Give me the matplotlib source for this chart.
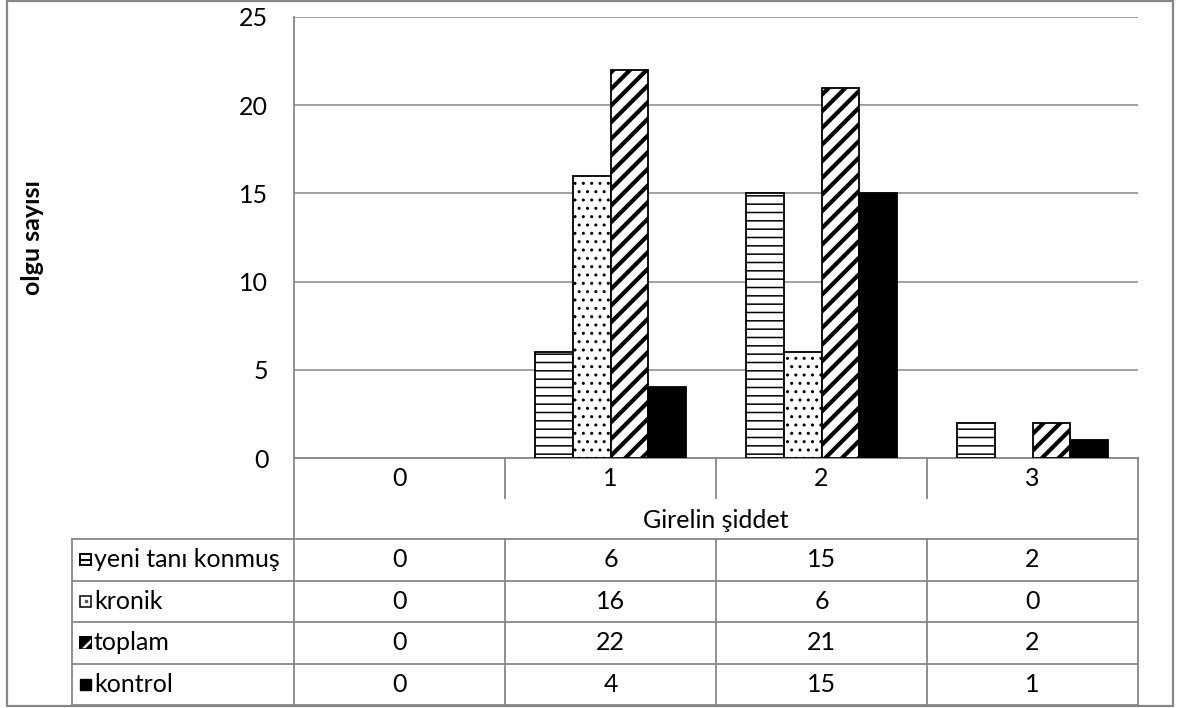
import numpy as np
import matplotlib
matplotlib.use("Agg")
import matplotlib.pyplot as plt
from matplotlib.patches import Rectangle, Polygon
from matplotlib.lines import Line2D

plt.rcParams["font.family"] = ["Lato", "DejaVu Sans"]

# severity grades and case counts per group
categories = ["0", "1", "2", "3"]
series_names = ["yeni tanı konmuş", "kronik", "toplam", "kontrol"]
yeni = [0, 6, 15, 2]
kronik = [0, 16, 6, 0]
toplam = [0, 22, 21, 2]
kontrol = [0, 4, 15, 1]
y_ticks = [0, 5, 10, 15, 20, 25]
x_title = "Girelin şiddet"
y_title = "olgu sayısı"

values = [yeni, kronik, toplam, kontrol]
styles = [
    dict(facecolor="white", hatch="--", hlw=1.1),
    dict(facecolor="white", hatch="..", hlw=1.0),
    dict(facecolor="white", hatch="//", hlw=3.0),
    dict(facecolor="black", hatch=None, hlw=1.0),
]

GRAY = "#878787"
FS = 18
W, H = 1177, 708

fig = plt.figure(figsize=(W / 100, H / 100), dpi=100)

# plot area in pixels
px_left, px_right, px_top, px_bottom = 294, 1138, 17, 458
ax = fig.add_axes([px_left / W, 1 - px_bottom / H,
                   (px_right - px_left) / W, (px_bottom - px_top) / H])

x = np.arange(len(categories))
bw = 0.18
for i, (vals, st) in enumerate(zip(values, styles)):
    with plt.rc_context({"hatch.linewidth": st["hlw"]}):
        bars = ax.bar(x + (i - 1.5) * bw, vals, bw, facecolor=st["facecolor"],
                      edgecolor="black", linewidth=1.3, hatch=st["hatch"],
                      zorder=3)
    for b, v in zip(bars, vals):
        if hasattr(b, "set_hatch_linewidth"):
            b.set_hatch_linewidth(st["hlw"])
        if v == 0:
            b.set_visible(False)

ax.set_xlim(-0.5, len(categories) - 0.5)
ax.set_ylim(0, 25)
ax.set_yticks(y_ticks)
ax.set_yticklabels([str(t) for t in y_ticks], fontsize=FS)
ax.tick_params(axis="y", length=0, pad=18.5)
ax.set_xticks([])
ax.yaxis.grid(True, color=GRAY, linewidth=1.1)
ax.set_axisbelow(True)
for s in ["top", "right"]:
    ax.spines[s].set_visible(False)
for s in ["left", "bottom"]:
    ax.spines[s].set_color(GRAY)
    ax.spines[s].set_linewidth(1.3)
ax.set_facecolor("none")

# overlay in pixel coordinates for the data table and frame
ov = fig.add_axes([0, 0, 1, 1], zorder=-1)
ov.set_xlim(0, W)
ov.set_ylim(H, 0)
ov.axis("off")


def hline(y, x0, x1):
    ov.add_line(Line2D([x0, x1], [y, y], color=GRAY, lw=1.3))


def vline(x0, y0, y1):
    ov.add_line(Line2D([x0, x0], [y0, y1], color=GRAY, lw=1.3))


# outer frame
ov.add_patch(Rectangle((7, 1), 1166, 705, fill=False, edgecolor=GRAY, lw=1.6))

col_w = (px_right - px_left) / len(categories)
col_edges = [px_left + k * col_w for k in range(len(categories) + 1)]
label_y = 478
title_y = 520
row_top = 539
row_h = 41.5
table_left = 72

# category label row
for k in range(1, len(categories)):
    vline(col_edges[k], px_bottom, 498)
vline(px_left, px_bottom, row_top)
vline(px_right, px_bottom, row_top)
for k, c in enumerate(categories):
    ov.text((col_edges[k] + col_edges[k + 1]) / 2, label_y, c, ha="center",
            va="center", fontsize=FS)
ov.text((px_left + px_right) / 2, title_y, x_title, ha="center", va="center",
        fontsize=FS)

# value rows
n_rows = len(series_names)
for r in range(n_rows + 1):
    hline(row_top + r * row_h, table_left, px_right)
table_bottom = row_top + n_rows * row_h
vline(table_left, row_top, table_bottom)
for e in col_edges:
    vline(e, row_top, table_bottom)

for r, (name, vals) in enumerate(zip(series_names, values)):
    cy = row_top + (r + 0.5) * row_h
    ov.text(94, cy, name, ha="left", va="center", fontsize=FS)
    for k, v in enumerate(vals):
        ov.text((col_edges[k] + col_edges[k + 1]) / 2, cy, str(v),
                ha="center", va="center", fontsize=FS)

# legend keys
key = 11
for r in range(n_rows):
    cy = row_top + (r + 0.5) * row_h
    x0, y0 = 80, cy - key / 2
    if r == 0:
        ov.add_patch(Rectangle((x0, y0), key, key, facecolor="white",
                               edgecolor="black", lw=1.4))
        ov.add_line(Line2D([x0, x0 + key], [cy, cy], color="black", lw=1.4))
    elif r == 1:
        ov.add_patch(Rectangle((x0, y0), key, key, facecolor="white",
                               edgecolor="black", lw=1.1))
        ov.plot([x0 + key / 2], [cy], "s", color="#555555", ms=1.6)
    elif r == 2:
        ov.add_patch(Rectangle((x0, y0), key, key, facecolor="black",
                               edgecolor="black", lw=1.4))
        ov.add_patch(Polygon([[x0 + 2, y0 + key], [x0 + key, y0 + 2],
                              [x0 + key, y0 + 5.5], [x0 + 5.5, y0 + key]],
                             closed=True, facecolor="white", edgecolor="none"))
    else:
        ov.add_patch(Rectangle((x0, y0), key, key, facecolor="black",
                               edgecolor="black", lw=1.0))

fig.text(33 / W, 1 - 238 / H, y_title, rotation=90, ha="center", va="center",
         fontsize=FS, fontweight="bold")

fig.savefig("out.png", dpi=100)
